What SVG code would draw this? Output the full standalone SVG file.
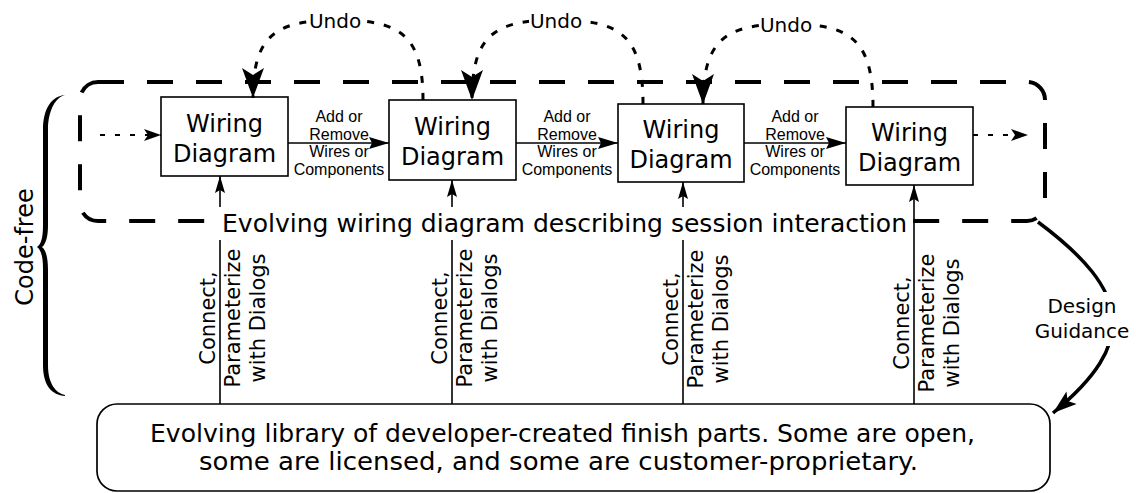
<svg xmlns="http://www.w3.org/2000/svg" width="1136" height="493" viewBox="0 0 1136 493">
  <style>
    .box { fill: #fff; stroke: #000; stroke-width: 1.6; }
    .wd { font-family: "DejaVu Sans", Verdana, sans-serif; font-size: 24px; text-anchor: middle; fill: #000; }
    .sm { font-family: "Liberation Sans", Arial, sans-serif; font-size: 16px; text-anchor: middle; fill: #000; }
    .vt { font-family: "DejaVu Sans", Verdana, sans-serif; font-size: 21px; text-anchor: middle; fill: #000; }
    .lb { font-family: "DejaVu Sans", Verdana, sans-serif; font-size: 25px; fill: #000; }
    .ud { font-family: "DejaVu Sans", Verdana, sans-serif; font-size: 20px; text-anchor: middle; fill: #000; }
    .dg { font-family: "DejaVu Sans", Verdana, sans-serif; font-size: 20px; text-anchor: middle; fill: #000; }
    .solid { fill: none; stroke: #000; stroke-width: 1.6; }
    .dot { fill: none; stroke: #000; stroke-width: 2; stroke-dasharray: 5 10; }
    .undo { fill: none; stroke: #000; stroke-width: 3; stroke-dasharray: 7 10; }
    .bg { fill: #fff; }
  </style>
  <defs>
    <marker id="headL" markerUnits="userSpaceOnUse" viewBox="-31 -12 32 24" markerWidth="32" markerHeight="24" refX="0" refY="0" orient="auto">
      <path d="M0,0 L-30,-11 L-23,0 L-30,11 Z" fill="#000"/>
    </marker>
    <marker id="headM" markerUnits="userSpaceOnUse" viewBox="-21 -7 22 14" markerWidth="22" markerHeight="14" refX="0" refY="0" orient="auto">
      <path d="M0,0 L-20,-6 L-17,0 L-20,6 Z" fill="#000"/>
    </marker>
    <marker id="headS" markerUnits="userSpaceOnUse" viewBox="-18 -6 19 12" markerWidth="19" markerHeight="12" refX="0" refY="0" orient="auto">
      <path d="M0,0 L-17,-5 L-14,0 L-17,5 Z" fill="#000"/>
    </marker>
    <marker id="headD" markerUnits="userSpaceOnUse" viewBox="-18 -7 19 14" markerWidth="19" markerHeight="14" refX="0" refY="0" orient="auto">
      <path d="M0,0 L-17,-6 L-13,0 L-17,6 Z" fill="#000"/>
    </marker>
    <marker id="headG" markerUnits="userSpaceOnUse" viewBox="-25 -9 26 18" markerWidth="26" markerHeight="18" refX="0" refY="0" orient="auto">
      <path d="M0,0 L-24,-8 L-19,0 L-24,8 Z" fill="#000"/>
    </marker>
  </defs>

  <!-- session container: dashed rounded frame -->
  <g id="session">
    <rect x="80" y="82" width="965" height="139" rx="18" ry="18" fill="none" stroke="#000" stroke-width="4" stroke-dasharray="26 23"/>
  </g>

  <!-- code-free brace -->
  <g id="code-free">
    <path d="M65,95 C52,96 43,108 43,130 L43,225 C43,238 41,244 37,247 C41,250 43,256 43,269 L43,365 C43,386 52,395 65,396 L65,395 C56,393 48,384 48,365 L48,270 C48,258 46,250 42,247 C46,244 48,236 48,225 L48,130 C48,110 56,97 65,95 Z" fill="#000"/>
    <text class="wd" transform="translate(33,247) rotate(-90)">Code-free</text>
  </g>

  <!-- wiring diagram snapshots -->
  <g id="wd1">
    <rect class="box" x="161" y="97" width="127" height="79"/>
    <text class="wd" x="224.5" y="132">Wiring</text>
    <text class="wd" x="224.5" y="162">Diagram</text>
  </g>
  <g id="wd2">
    <rect class="box" x="389" y="100" width="127" height="80"/>
    <text class="wd" x="452.5" y="135">Wiring</text>
    <text class="wd" x="452.5" y="165">Diagram</text>
  </g>
  <g id="wd3">
    <rect class="box" x="618" y="104" width="126" height="78"/>
    <text class="wd" x="681" y="138">Wiring</text>
    <text class="wd" x="681" y="168">Diagram</text>
  </g>
  <g id="wd4">
    <rect class="box" x="846" y="107" width="127" height="78"/>
    <text class="wd" x="909.5" y="141">Wiring</text>
    <text class="wd" x="909.5" y="171">Diagram</text>
  </g>

  <!-- parts library -->
  <g id="library">
    <rect x="97" y="404" width="953" height="87" rx="20" ry="20" fill="#fff" stroke="#000" stroke-width="1.7"/>
    <text class="lb" x="150" y="442" textLength="825" lengthAdjust="spacingAndGlyphs">Evolving library of developer-created finish parts. Some are open,</text>
    <text class="lb" x="199" y="470" textLength="719" lengthAdjust="spacingAndGlyphs">some are licensed, and some are customer-proprietary.</text>
  </g>

  <!-- connectors -->
  <g id="connectors">
    <!-- edits between snapshots -->
    <path class="solid" d="M288,143 H389" marker-end="url(#headM)"/>
    <path class="solid" d="M516,143 H618" marker-end="url(#headM)"/>
    <path class="solid" d="M744,143 H846" marker-end="url(#headM)"/>
    <!-- entry and exit of the session -->
    <path class="dot" d="M100,135 H161" marker-end="url(#headD)"/>
    <path class="dot" d="M973,135 H1028" marker-end="url(#headD)"/>
    <!-- library to snapshots -->
    <path class="solid" d="M220,404 V176" marker-end="url(#headS)"/>
    <path class="solid" d="M452,404 V180" marker-end="url(#headS)"/>
    <path class="solid" d="M683,404 V182" marker-end="url(#headS)"/>
    <path class="solid" d="M914,404 V185" marker-end="url(#headS)"/>
    <!-- undo loops -->
    <path class="undo" d="M423,100 C423,35 400,20 338,20 C276,20 253,35 253,98" marker-end="url(#headL)"/>
    <path class="undo" d="M643,104 C643,35 620,20 557,20 C494,20 472,35 472,100" marker-end="url(#headL)"/>
    <path class="undo" d="M873,107 C873,39 850,24 788,24 C726,24 703,39 703,104" marker-end="url(#headL)"/>
    <!-- design guidance -->
    <path d="M1038,222 C1132,292 1138,343 1053,413" fill="none" stroke="#000" stroke-width="3.5" marker-end="url(#headG)"/>
  </g>

  <!-- connector labels -->
  <g id="labels">
    <text class="sm" x="339" y="122">Add or</text>
    <text class="sm" x="339" y="140">Remove</text>
    <text class="sm" x="339" y="157">Wires or</text>
    <text class="sm" x="339" y="175">Components</text>

    <text class="sm" x="567" y="122">Add or</text>
    <text class="sm" x="567" y="140">Remove</text>
    <text class="sm" x="567" y="157">Wires or</text>
    <text class="sm" x="567" y="175">Components</text>

    <text class="sm" x="795" y="122">Add or</text>
    <text class="sm" x="795" y="140">Remove</text>
    <text class="sm" x="795" y="157">Wires or</text>
    <text class="sm" x="795" y="175">Components</text>

    <rect class="bg" x="308" y="10" width="54" height="22"/>
    <text class="ud" x="335" y="28">Undo</text>
    <rect class="bg" x="529" y="10" width="54" height="22"/>
    <text class="ud" x="556" y="28">Undo</text>
    <rect class="bg" x="759" y="14" width="54" height="22"/>
    <text class="ud" x="786" y="32">Undo</text>

    <text class="vt" transform="translate(215,318) rotate(-90)">Connect,</text>
    <text class="vt" transform="translate(240,318) rotate(-90)">Parameterize</text>
    <text class="vt" transform="translate(265,318) rotate(-90)">with Dialogs</text>

    <text class="vt" transform="translate(447,318) rotate(-90)">Connect,</text>
    <text class="vt" transform="translate(472,318) rotate(-90)">Parameterize</text>
    <text class="vt" transform="translate(497,318) rotate(-90)">with Dialogs</text>

    <text class="vt" transform="translate(678,319) rotate(-90)">Connect,</text>
    <text class="vt" transform="translate(703,319) rotate(-90)">Parameterize</text>
    <text class="vt" transform="translate(728,319) rotate(-90)">with Dialogs</text>

    <text class="vt" transform="translate(909,323) rotate(-90)">Connect,</text>
    <text class="vt" transform="translate(934,323) rotate(-90)">Parameterize</text>
    <text class="vt" transform="translate(959,323) rotate(-90)">with Dialogs</text>

    <rect class="bg" x="1030" y="292" width="106" height="54"/>
    <text class="dg" x="1082" y="313">Design</text>
    <text class="dg" x="1082" y="338">Guidance</text>

    <rect class="bg" x="218.5" y="207" width="689.5" height="33"/>
    <text class="lb" x="222" y="232" textLength="685" lengthAdjust="spacingAndGlyphs">Evolving wiring diagram describing session interaction</text>
  </g>
</svg>
